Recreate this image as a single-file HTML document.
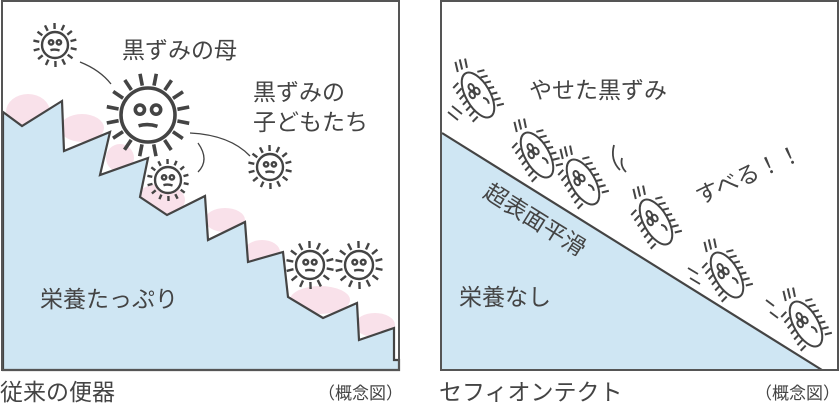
<!DOCTYPE html>
<html><head><meta charset="utf-8"><style>
body{margin:0;background:#fff;width:840px;height:405px;overflow:hidden}
svg text{font-family:"Liberation Sans","Noto Sans CJK JP",sans-serif;fill:#444}
</style></head><body>
<svg id="s" width="840" height="405" viewBox="0 0 840 405" xmlns="http://www.w3.org/2000/svg">
<rect x="0" y="0" width="840" height="405" fill="#fff"/>
<g fill="#f9e1ea">
<ellipse cx="28" cy="112" rx="22" ry="18"/>
<ellipse cx="82" cy="128" rx="22" ry="14"/>
<ellipse cx="120" cy="158" rx="14" ry="14"/>
<ellipse cx="160" cy="200" rx="25" ry="16"/>
<ellipse cx="225" cy="220" rx="20" ry="12"/>
<ellipse cx="262" cy="252" rx="18" ry="12"/>
<ellipse cx="320" cy="300" rx="30" ry="14"/>
<ellipse cx="375" cy="325" rx="20" ry="12"/>
</g>
<polygon fill="#cfe6f3" stroke="#444" stroke-width="2.2" stroke-linejoin="miter"
points="3,112 22,126 62,101 64,151 110,132 100,175 148,158 140,197 167,215 205,196 208,240 245,222 248,262 283,252 288,297 323,318 357,303 359,340 394,328 394,360 399,360 399,370 3,370"/>
<rect x="2" y="1" width="397" height="369" fill="none" stroke="#555" stroke-width="2"/>
<polygon fill="#cfe6f3" points="442,133 822,370 442,370"/>
<line x1="442" y1="133" x2="822" y2="370" stroke="#444" stroke-width="2.2"/>
<rect x="441" y="1" width="397" height="369" fill="none" stroke="#555" stroke-width="2"/>
<g fill="none" stroke="#444" stroke-width="1.3">
<path d="M80,62 Q100,70 111,84"/>
<path d="M190,133 Q230,135 250,156"/>
<path d="M198,143 Q210,160 198,172"/>
</g>
<g id="germs"></g>
<text x="122" y="58" font-size="23">黒ずみの母</text>
<text x="253" y="100" font-size="23">黒ずみの</text>
<text x="253" y="130" font-size="23">子どもたち</text>
<text x="40" y="307" font-size="23">栄養たっぷり</text>
<text x="0" y="400" font-size="23">従来の便器</text>
<text x="318" y="399" font-size="17">（概念図）</text>
<text x="529" y="98" font-size="23">やせた黒ずみ</text>
<text x="700" y="205" font-size="23" transform="rotate(-24 700 205)">すべる！！</text>
<text x="482" y="196" font-size="23" transform="rotate(32 482 196)">超表面平滑</text>
<text x="459" y="305" font-size="23">栄養なし</text>
<text x="439" y="400" font-size="23">セフィオンテクト</text>
<text x="755" y="399" font-size="17">（概念図）</text>
</svg>
<script>
var g=document.getElementById('germs'),h='';
function round(cx,cy,r,L,n,sw){
 h+='<g stroke="#444" fill="#fff" stroke-width="'+sw+'">';
 for(var i=0;i<n;i++){var a=i/n*Math.PI*2+0.2;var x1=cx+Math.cos(a)*(r+3),y1=cy+Math.sin(a)*(r+3),x2=cx+Math.cos(a)*(r+L),y2=cy+Math.sin(a)*(r+L);
 h+='<line x1="'+x1.toFixed(1)+'" y1="'+y1.toFixed(1)+'" x2="'+x2.toFixed(1)+'" y2="'+y2.toFixed(1)+'"/>';}
 h+='<circle cx="'+cx+'" cy="'+cy+'" r="'+r+'"/>';
 var e=r*0.17;
 h+='<circle cx="'+(cx-r*0.3)+'" cy="'+(cy-r*0.2)+'" r="'+e+'"/><circle cx="'+(cx+r*0.3)+'" cy="'+(cy-r*0.2)+'" r="'+e+'"/>';
 h+='<path fill="none" d="M'+(cx-r*0.35)+','+(cy+r*0.4)+' Q'+cx+','+(cy+r*0.3)+' '+(cx+r*0.35)+','+(cy+r*0.42)+'"/></g>';
}
round(55,45,13,9,14,2.4);
round(148,115,27,15,16,3.6);
round(168,180,13,8,14,2.4);
round(270,167,13,9,14,2.4);
round(310,265,14,10,14,2.4);
round(359,265,14,10,14,2.4);
function thin(cx,cy){
 h+='<g transform="translate('+cx+','+cy+') rotate(-30)" stroke="#444" fill="#fff" stroke-width="2">';
 for(var i=0;i<14;i++){var t=-0.85+(i>>1)*0.27;var y=t*24;var side=(i%2)?1:-1;
 h+='<line x1="'+(side*11)+'" y1="'+y.toFixed(1)+'" x2="'+(side*18)+'" y2="'+(y+2).toFixed(1)+'"/>';}
 h+='<line x1="-6" y1="-30" x2="-3" y2="-40"/><line x1="-1" y1="-30" x2="2" y2="-40"/><line x1="4" y1="-29" x2="7" y2="-38"/>';
 h+='<ellipse cx="0" cy="0" rx="12" ry="25"/>';
 h+='<ellipse cx="-5" cy="-3" rx="2.5" ry="3.5"/><ellipse cx="1" cy="-4" rx="2.5" ry="3.5"/><ellipse cx="-2" cy="-10" rx="2.5" ry="3.5"/>';
 h+='<path fill="none" d="M3,5 Q7,8 5,13"/></g>';
}
[[478,95],[537,155],[583,182],[656,222],[727,275],[806,324]].forEach(function(p){thin(p[0],p[1]);});
h+='<g stroke="#444" stroke-width="1.8" fill="none"><path d="M614,145 Q610,160 620,170"/><path d="M622,158 Q620,166 626,172"/><path d="M688,268 l10,6 M690,278 l10,6"/><path d="M766,300 l8,6 M770,312 l8,6"/><path d="M448,112 l10,8 M452,106 l10,8"/></g>';
g.innerHTML=h;
</script>
</body></html>
